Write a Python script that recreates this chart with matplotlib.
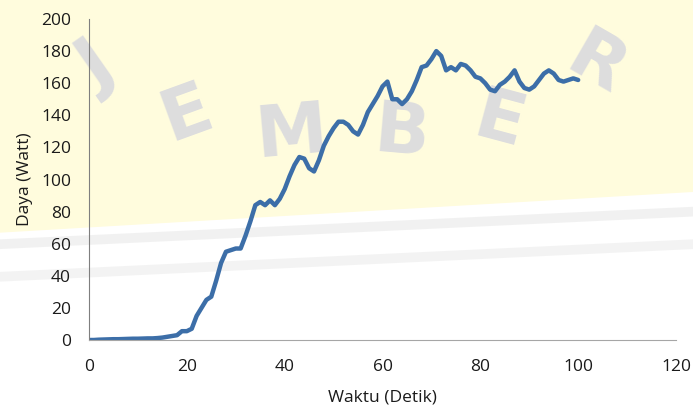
import numpy as np
import matplotlib.pyplot as plt
from matplotlib.patches import Polygon

# data (one value per second)
waktu = list(range(0, 101))
daya = [0, 0, 0.2, 0.3, 0.4, 0.5, 0.5, 0.6, 0.7, 0.8,
        0.8, 0.9, 1.0, 1.0, 1.2, 1.5, 2, 2.5, 3, 5.5,
        5.5, 7, 15, 20, 25, 27, 37, 48, 55, 56,
        57, 57, 65, 74, 84, 86, 84, 87, 84, 88,
        94, 102, 109, 114, 113, 107, 105, 112, 121, 127,
        132, 136, 136, 134, 130, 128, 134, 142, 147, 152,
        158, 161, 150, 150, 147, 150, 155, 162, 170, 171,
        175, 180, 177, 168, 170, 168, 172, 171, 168, 164,
        163, 160, 156, 155, 159, 161, 164, 168, 161, 157,
        156, 158, 162, 166, 168, 166, 162, 161, 162, 163,
        162]

xticks = [0, 20, 40, 60, 80, 100, 120]
yticks = [0, 20, 40, 60, 80, 100, 120, 140, 160, 180, 200]

plt.rcParams['font.family'] = ['Open Sans', 'DejaVu Sans']

fig = plt.figure(figsize=(6.93, 4.07), dpi=100)
fig.patch.set_facecolor('white')

# watermark background (pale yellow area with grey letters), kept behind the axes
xs = np.linspace(0, 1, 50)
lower = 0.43 + 0.10 * xs
yellow = Polygon(np.column_stack([np.r_[xs, 1, 0], np.r_[lower, 1, 1]]),
                 closed=True, transform=fig.transFigure, color='#fffcdd', zorder=-3)
fig.patches.append(yellow)
for off, a in [(-0.03, 0.35), (-0.11, 0.3)]:
    fig.lines.append(plt.Line2D(xs, lower + off - 0.02 * xs, transform=fig.transFigure,
                                color='#d9d9d9', lw=7, alpha=a, zorder=-2))
letters = ['J', 'E', 'M', 'B', 'E', 'R']
lx = [0.14, 0.27, 0.42, 0.58, 0.72, 0.86]
ly = [0.83, 0.72, 0.67, 0.67, 0.70, 0.84]
lr = [35, 20, 5, -5, -15, -30]
for t, x, y, r in zip(letters, lx, ly, lr):
    fig.text(x, y, t, fontsize=52, fontweight='bold', color='#dddddd',
             ha='center', va='center', rotation=r, family='DejaVu Sans', zorder=-2)

ax = fig.add_axes([89 / 693, 1 - 340 / 407, (676 - 89) / 693, (340 - 19) / 407])
ax.set_facecolor('none')
ax.plot(waktu, daya, color='#3c6ea8', lw=3.2, solid_capstyle='round',
        solid_joinstyle='round')

ax.set_xlim(0, 120)
ax.set_ylim(0, 200)
ax.set_xticks(xticks)
ax.set_yticks(yticks)
ax.tick_params(length=0, labelsize=12.5, colors='#1a1a1a')
ax.tick_params(axis='x', pad=14)
ax.tick_params(axis='y', pad=13)
ax.spines['top'].set_visible(False)
ax.spines['right'].set_visible(False)
ax.spines['left'].set_color('#7f7f7f')
ax.spines['bottom'].set_color('#a6a6a6')
ax.set_xlabel('Waktu (Detik)', fontsize=12.5, color='#1a1a1a', labelpad=10)
ax.set_ylabel('Daya (Watt)', fontsize=12.5, color='#1a1a1a', labelpad=6)

fig.savefig('out.png', dpi=100)
